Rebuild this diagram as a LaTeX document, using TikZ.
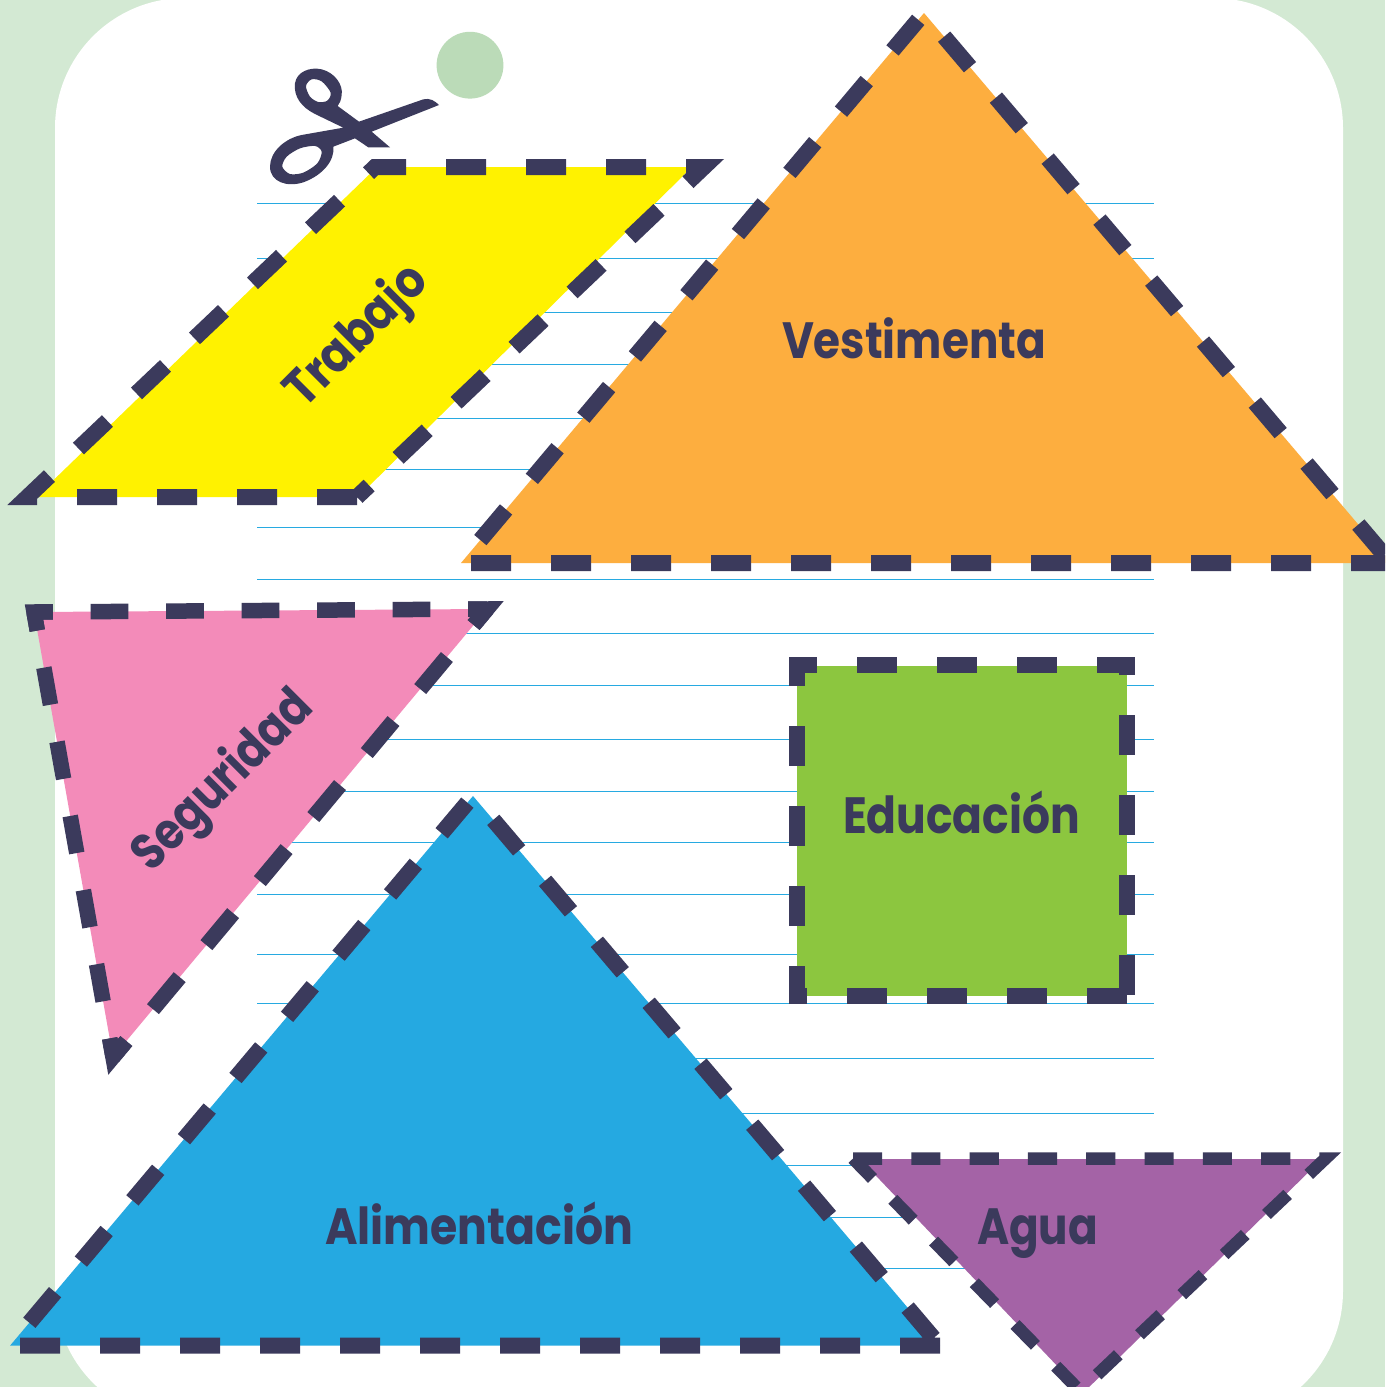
\documentclass[tikz,border=0pt]{standalone}
\usepackage{graphicx}
\usepackage{fontspec}
\usetikzlibrary{calc}
\newfontfamily\labfont{Poppins}
\definecolor{dk}{HTML}{3B3A5C}
\definecolor{bggreen}{HTML}{D3E9D3}
\definecolor{dotgreen}{HTML}{BBDBB8}
\definecolor{rule}{HTML}{27AAE1}
\definecolor{cyellow}{HTML}{FFF200}
\definecolor{corange}{HTML}{FDAE3F}
\definecolor{cblue}{HTML}{25A9E1}
\definecolor{cpink}{HTML}{F38BB9}
\definecolor{cpurple}{HTML}{A463A6}
\definecolor{cgreen}{HTML}{8CC63F}
\tikzset{
  cutline/.style={draw=dk,line width=16pt,dash pattern=on 40pt off 40pt,line cap=butt,line join=miter},
  cutthin/.style={draw=dk,line width=12.5pt,dash pattern=on 29.15pt off 29.15pt,line cap=butt,line join=miter},
  pinkedge/.style={draw=dk,line width=15.5pt,line cap=butt,dash pattern=on #1pt off #1pt,dash phase=#1pt/2},
  pinkcorner/.style={draw=dk,line width=15.5pt,line cap=butt,line join=miter},
  ruled/.style={draw=rule,line width=1pt},
  lab/.style={text=dk,inner sep=0pt,font=\labfont\bfseries\fontsize{51}{51}\selectfont}
}
\begin{document}
\begin{tikzpicture}[x=1pt,y=-1pt]
\path[use as bounding box] (0,0) rectangle (1385,1387);
\clip (0,0) rectangle (1385,1387);
\fill[bggreen] (0,0) rectangle (1385,1387);
\fill[white,rounded corners=130pt] (55,-2) rectangle (1343,1421);
\foreach \yy in {203,258,312,364,418,469,527,579,633,685,739,791,842,894,954,1003,1058,1113,1165,1217,1268}
  \draw[ruled] (257,\yy) -- (1154,\yy);
\fill[dotgreen] (470,65.2) circle[radius=33.4pt];
% scissors
\begin{scope}[shift={(240,20)},x=0.33333pt,y=-0.33333pt]
\fill[dk,even odd rule]
  (597,255) -- (395,335) -- (450,382) -- (385,382) -- (345,355) -- (280,380)
  .. controls (285,420) and (250,465) .. (190,487)
  .. controls (140,503) and (90,485) .. (90,440)
  .. controls (90,395) and (135,355) .. (185,345)
  -- (310,323) -- (225,282)
  .. controls (185,262) and (160,230) .. (165,190)
  .. controls (170,155) and (210,140) .. (245,148)
  .. controls (285,158) and (310,195) .. (305,225)
  .. controls (303,240) and (300,250) .. (293,258)
  -- (357,305) -- (550,238) .. controls (570,233) and (585,243) .. (597,255) -- cycle
  plot[smooth cycle] coordinates {(198,198) (215,178) (245,184) (272,218) (262,242) (235,246) (210,230)}
  plot[smooth cycle] coordinates {(127,440) (140,410) (180,385) (225,378) (245,395) (232,430) (190,458) (150,462)};
\end{scope}
% yellow
\fill[cyellow] (36,497) -- (377,167) -- (692,167) -- (358,497) -- cycle;
\draw[cutline] (357,497) -- (27.4,497) -- (375,167) -- (704,167) -- (357,497);
% orange
\fill[corange] (461,563) -- (924,13) -- (1391,563) -- cycle;
\draw[cutline] (1391,563) -- (461,563) -- (924,13) -- (1391,563);
% pink
\coordinate (pa) at (34,612);
\coordinate (pb) at (487,609);
\coordinate (pc) at (113,1057);
\fill[cpink] (pa) -- (pb) -- (pc) -- cycle;
\draw[pinkedge=37.75] (pa) -- (pb);
\draw[pinkedge=37.66] (pa) -- (pc);
\draw[pinkedge=41.7] (pb) -- (pc);
\draw[pinkcorner] ($(pa)!18.85pt!(pc)$) -- (pa) -- ($(pa)!18.85pt!(pb)$);
\draw[pinkcorner] ($(pb)!18.85pt!(pa)$) -- (pb) -- ($(pb)!20.85pt!(pc)$);
\draw[pinkcorner] ($(pc)!18.85pt!(pa)$) -- (pc) -- ($(pc)!20.85pt!(pb)$);
% green
\fill[cgreen] (797.3,665.5) rectangle (1127.3,995.6);
\draw[cutline] (1127.3,995.5) -- (797.3,995.5) -- (797.3,665.3) -- (1127.3,665.3) -- (1127.3,995.5);
% blue
\fill[cblue] (10,1345.7) -- (473,796) -- (940,1345.7) -- cycle;
\draw[cutline] (940,1345.7) -- (10,1345.7) -- (473,796) -- (940,1345.7);
% purple
\fill[cpurple] (860,1159) -- (1322,1159) -- (1083,1393) -- cycle;
\draw[cutthin] (853,1158.5) -- (1325.5,1158.5) -- (1080,1391) -- (853,1158.5);
% labels
\node[lab,anchor=base] (vest) at (914,358) {\resizebox{264pt}{\height}{Vestimenta}};
\node[lab,anchor=base] (edu) at (961.5,833) {\resizebox{237pt}{\height}{Educación}};
\node[lab,anchor=base] (ali) at (479,1244) {\resizebox{308pt}{\height}{Alimentación}};
\node[lab,anchor=base] (agua) at (1037.5,1244) {\resizebox{121pt}{\height}{Agua}};
\node[lab,rotate=45] (trab) at (358,337) {\resizebox{178pt}{\height}{Trabajo}};
\node[lab,rotate=45] (seg) at (224,782) {\resizebox{232pt}{\height}{Seguridad}};
\end{tikzpicture}
\end{document}
